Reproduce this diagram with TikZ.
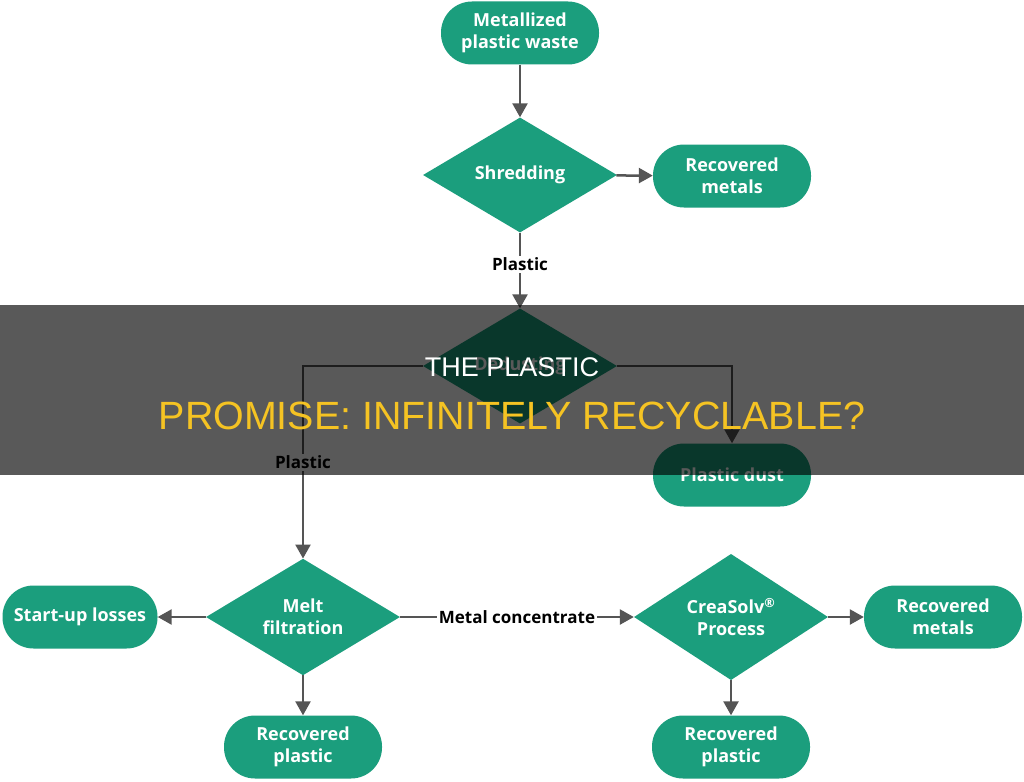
\documentclass[tikz,border=0pt]{standalone}
\usepackage{fontspec}
\setmainfont{Open Sans}
\newfontfamily\titlefont{Liberation Sans}
\usetikzlibrary{shapes.geometric,arrows.meta}
\definecolor{gr}{RGB}{27,158,125}
\definecolor{ar}{RGB}{85,85,85}
\definecolor{ttl}{RGB}{245,195,35}
\tikzset{
  pill/.style={fill=gr, rounded corners=31pt, minimum width=158pt, minimum height=63pt,
    text=white, font=\bfseries\fontsize{18}{22}\selectfont, align=center, inner sep=0pt},
  dia/.style={diamond, fill=gr, minimum width=194pt, minimum height=115pt, inner sep=0pt,
    text=white, font=\bfseries\fontsize{18}{22}\selectfont, align=center},
  conn/.style={draw=ar, line width=2.5pt, -{Triangle[length=14pt,width=15pt]}},
  plain/.style={draw=ar, line width=2.5pt},
  lab/.style={fill=white, text=black, font=\bfseries\fontsize{17}{20}\selectfont, inner sep=2pt}
}
\begin{document}
\begin{tikzpicture}[x=1pt,y=-1pt]
\useasboundingbox (0,0) rectangle (1024,781);
\fill[white] (0,0) rectangle (1024,781);
% nodes
\node[pill] (mpw) at (520,33) {Metallized\\plastic waste};
\node[dia] (shred) at (520,175) {Shredding};
\node[pill] (rm1) at (732,176) {Recovered\\metals};
\node[dia] (dedust) at (520,366) {Dedusting};
\node[pill] (pdust) at (732,475) {Plastic dust};
\node[dia] (melt) at (303,617) {Melt\\filtration};
\node[pill, minimum width=155pt] (startup) at (80,617) {Start-up losses};
\node[pill] (rp1) at (303,747) {Recovered\\plastic};
\node[dia] (crea) at (731,617) {CreaSolv\textsuperscript{\textregistered}\\Process};
\node[pill] (rm2) at (943,617) {Recovered\\metals};
\node[pill] (rp2) at (731,747) {Recovered\\plastic};
% connectors
\draw[conn] (mpw) -- (shred);
\draw[conn] (shred) -- (rm1);
\draw[conn] (shred) -- node[lab, pos=0.42] (lp1) {Plastic} (dedust);
\draw[conn] (dedust.west) -| node[lab, pos=0.75] (lp2) {Plastic} (melt.north);
\draw[conn] (dedust.east) -| (pdust.north);
\draw[conn] (melt.west) -- (startup.east);
\draw[conn] (melt.south) -- (rp1.north);
\draw[conn] (melt.east) -- node[lab] (lmc) {Metal concentrate} (crea.west);
\draw[conn] (crea.east) -- (rm2.west);
\draw[conn] (crea.south) -- (rp2.north);
% overlay band
\fill[black, opacity=0.65] (0,305) rectangle (1024,475);
\node[font=\titlefont\fontsize{27}{30}\selectfont, text=white, anchor=base, inner sep=0pt] (t1) at (512,376) {THE PLASTIC};
\node[font=\titlefont\fontsize{39.4}{44}\selectfont, text=ttl, anchor=base, inner sep=0pt] (t2) at (512,429) {PROMISE: INFINITELY RECYCLABLE?};
\end{tikzpicture}
\end{document}
